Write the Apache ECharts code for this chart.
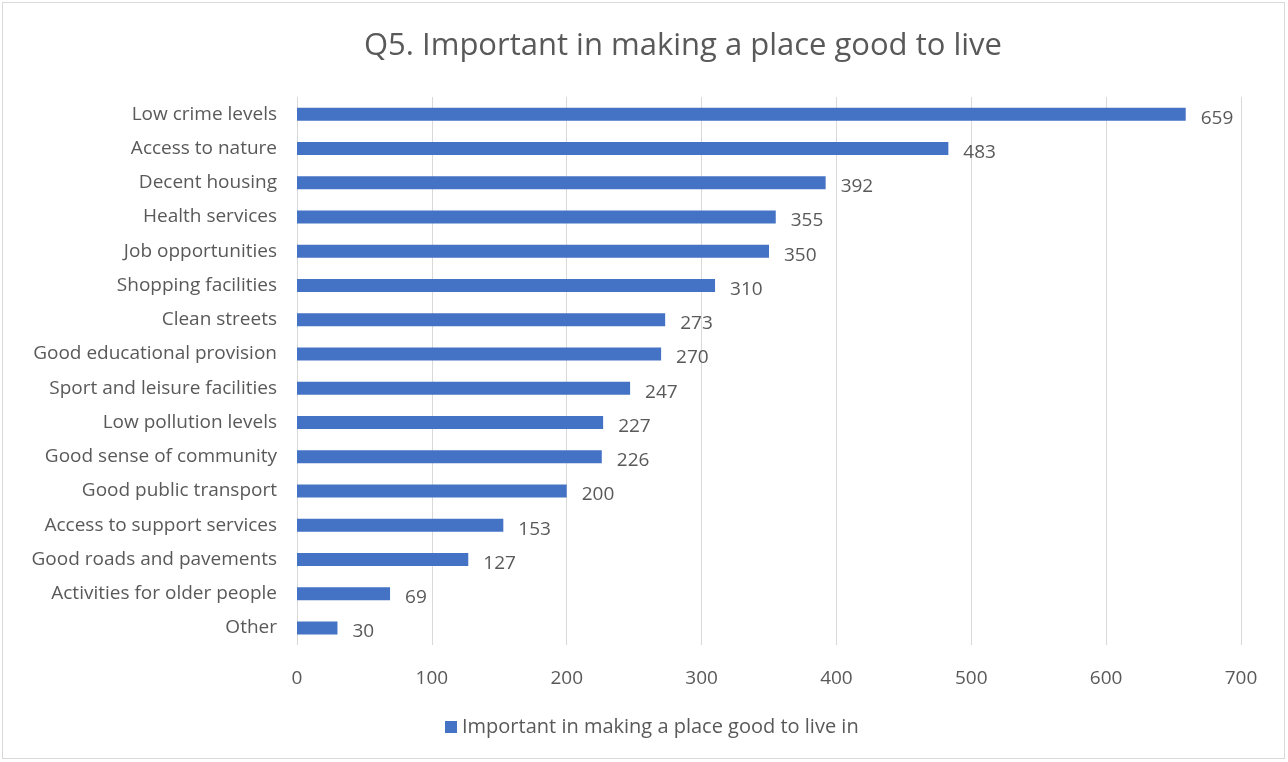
<!DOCTYPE html>
<html>
<head>
<meta charset="utf-8">
<script src="https://cdn.jsdelivr.net/npm/echarts@6/dist/echarts.min.js"></script>
<style>
  html, body { margin: 0; padding: 0; background: #fff; }
  #chart {
    position: absolute; left: 2px; top: 2px;
    width: 1283px; height: 757px;
    border: 1px solid #d9d9d9; box-sizing: border-box;
  }
</style>
</head>
<body>
<div id="chart"></div>
<script>
// categories top to bottom as shown
var categories = [
  'Low crime levels', 'Access to nature', 'Decent housing', 'Health services',
  'Job opportunities', 'Shopping facilities', 'Clean streets',
  'Good educational provision', 'Sport and leisure facilities',
  'Low pollution levels', 'Good sense of community', 'Good public transport',
  'Access to support services', 'Good roads and pavements',
  'Activities for older people', 'Other'
];
var values = [659, 483, 392, 355, 350, 310, 273, 270, 247, 227, 226, 200, 153, 127, 69, 30];
var xTicks = [0, 100, 200, 300, 400, 500, 600, 700];
var seriesName = 'Important in making a place good to live in';

var txt = '#595959';
var font = 'Open Sans';

var myChart = echarts.init(document.getElementById('chart'));
var option = {
  title: {
    text: 'Q5. Important in making a place good to live',
    left: 356, top: 23,
    textStyle: { fontFamily: font, fontSize: 31, fontWeight: 'normal', color: txt }
  },
  legend: {
    bottom: 16, left: 437,
    data: [seriesName],
    icon: 'rect', itemWidth: 12, itemHeight: 12, itemGap: 5,
    textStyle: { fontFamily: font, fontSize: 20, color: txt }
  },
  grid: { left: 294, right: 43, top: 94, bottom: 113, containLabel: false },
  xAxis: {
    type: 'value', min: 0, max: 700, interval: 100,
    axisLine: { show: false }, axisTick: { show: false },
    splitLine: { show: true, lineStyle: { color: '#d9d9d9', width: 1 } },
    axisLabel: {
      fontFamily: font, fontSize: 19, color: txt, margin: 24,
      formatter: function (v) { return xTicks.indexOf(v) >= 0 ? String(v) : ''; }
    }
  },
  yAxis: {
    type: 'category', inverse: true,
    data: categories,
    axisLine: { show: false }, axisTick: { show: false },
    axisLabel: { fontFamily: font, fontSize: 19, color: txt, margin: 20 }
  },
  series: [{
    name: seriesName,
    type: 'bar',
    data: values,
    barWidth: 13,
    itemStyle: { color: '#4472c4' },
    label: {
      show: true, position: 'right', distance: 15,
      fontFamily: font, fontSize: 19, color: txt, offset: [0, 4]
    }
  }],
  animation: false
};
myChart.setOption(option);
</script>
</body>
</html>
